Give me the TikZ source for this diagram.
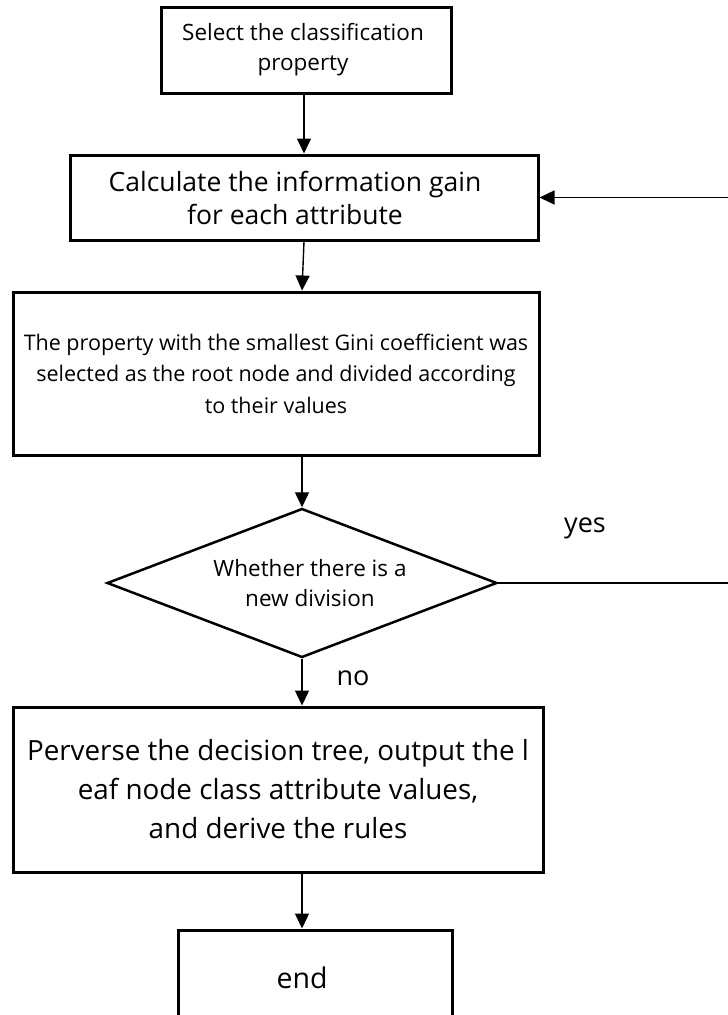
\documentclass[tikz,border=0pt]{standalone}
\usepackage{fontspec}
\setmainfont{Open Sans}
\usetikzlibrary{arrows.meta,shapes.geometric}
\begin{document}
\begin{tikzpicture}[x=1pt,y=-1pt,
  box/.style={draw,line width=3pt,inner sep=0pt,align=center},
  conn/.style={line width=1.4pt,-{Triangle[length=15pt,width=14pt]}},
  lbl/.style={inner sep=0pt,align=center}]
\useasboundingbox (0,0) rectangle (728,1015);
\coordinate (ax) at (304,0);
\coordinate (rx) at (730,0);
\node[box,minimum width=290pt,minimum height=86pt,font=\fontsize{22.5}{30}\selectfont] (b1) at (306,50) {\hspace*{-6pt}Select the classification\\\hspace*{-6pt}property};
\node[box,minimum width=468pt,minimum height=85pt,font=\fontsize{26.5}{33}\selectfont] (b2) at (304,197.5) {\hspace*{-18pt}Calculate the information gain\\\hspace*{-18pt}for each attribute};
\node[box,minimum width=526pt,minimum height=163pt,font=\fontsize{21.5}{31.5}\selectfont] (b3) at (276,373.5) {The property with the smallest Gini coefficient was\\selected as the root node and divided according\\to their values};
\node[diamond,draw,line width=2.5pt,minimum width=390pt,minimum height=149pt,inner sep=0pt] (dia) at (302,583) {};
\node[lbl,font=\fontsize{22.5}{30}\selectfont] (diatext) at (310,583) {Whether there is a\\new division};
\node[lbl,font=\fontsize{27}{30}\selectfont] (yes) at (585,528) {yes};
\node[lbl,font=\fontsize{27}{30}\selectfont] (no) at (353,678) {no};
\node[box,minimum width=530pt,minimum height=165pt,font=\fontsize{27.8}{39}\selectfont] (b4) at (278,789.5) {Perverse the decision tree, output the l\\eaf node class attribute values,\\and derive the rules};
\node[box,minimum width=274pt,minimum height=96pt,font=\fontsize{28.5}{30}\selectfont] (b5) at (315,978) {\hspace*{-26pt}end};
\draw[conn] (b1.south -| ax) -- (b2.north -| ax);
\draw[conn] (b2.south -| ax) -- (b3.north -| dia);
\draw[conn] (b3.south -| dia) -- (dia.north);
\draw[conn] (dia.south) -- (b4.north -| dia);
\draw[conn] (b4.south -| dia) -- (b5.north -| dia);
\draw[conn] (dia.east) -- (dia.east -| rx) -- (b2.east -| rx) -- (b2.east);
\end{tikzpicture}
\end{document}
